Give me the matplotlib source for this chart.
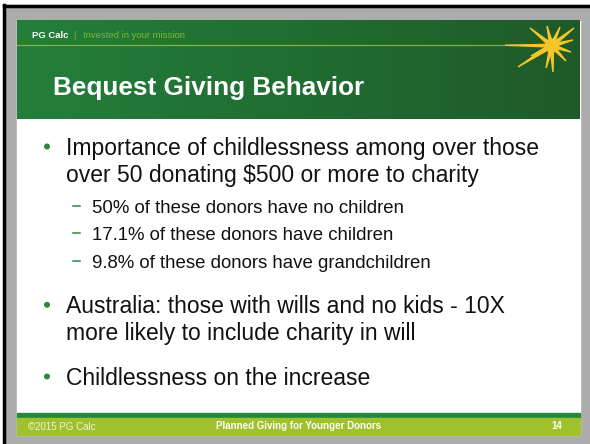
import numpy as np
import matplotlib.pyplot as plt
from matplotlib.patches import Rectangle, Polygon, Circle
from matplotlib.colors import LinearSegmentedColormap

plt.rcParams['font.family'] = ['Liberation Sans', 'DejaVu Sans']

title = 'Bequest Giving Behavior'
brand = 'PG Calc'
tagline = 'Invested in your mission'
bullets = [
    ['Importance of childlessness among over those', 'over 50 donating $500 or more to charity'],
    ['Australia: those with wills and no kids - 10X', 'more likely to include charity in will'],
    ['Childlessness on the increase'],
]
sub_bullets = [
    '50% of these donors have no children',
    '17.1% of these donors have children',
    '9.8% of these donors have grandchildren',
]
footer_left = '\u00a92015 PG Calc'
footer_mid = 'Planned Giving for Younger Donors'
footer_page = '14'

# sunburst ray tips (pixel coords of the slide picture)
ray_x = [530, 547, 560, 574, 573, 571, 566, 553, 546, 518, 531]
ray_y = [28, 26, 27, 28, 40, 52, 61, 72, 68, 67, 56]

W, H = 590, 444
fig = plt.figure(figsize=(W / 100, H / 100), dpi=100)
ax = fig.add_axes([0, 0, 1, 1])

# outer frame
ax.add_patch(Rectangle((0, 0), W, H, color='#ffffff', zorder=0))
ax.add_patch(Rectangle((5, 5), W - 5, H - 5, color='#acacac', zorder=0.5))
ax.plot([4, 4], [5, H], color='#000000', lw=2.5, zorder=1)
ax.plot([4, W], [6.5, 6.5], color='#000000', lw=2.5, zorder=1)

L, R, T, B = 17, 580, 21, 435
ax.add_patch(Rectangle((L, T), R - L, B - T, color='#ffffff', zorder=1))

# header gradient
cmap = LinearSegmentedColormap.from_list('hdr', ['#237f3b', '#1f5a29'])
grad = np.linspace(0, 1, 256).reshape(1, -1)
ax.imshow(grad, cmap=cmap, extent=[L, R, 119.5, T], aspect='auto', zorder=2)
ax.set_xlim(0, W)
ax.set_ylim(H, 0)
ax.axis('off')

ax.plot([L, 515], [45, 45], color='#7dbb2a', lw=0.9, zorder=3)
ax.text(32, 36, brand, color='#ffffff', fontsize=6.8, fontweight='bold', va='center', zorder=4)
ax.text(73, 36, '|', color='#7dbb2a', fontsize=6.8, va='center', zorder=4)
ax.text(83, 36, tagline, color='#7dbb2a', fontsize=6.8, va='center', zorder=4)
ax.text(53, 95, title, color='#ffffff', fontsize=18.8, fontweight='bold', va='baseline', zorder=4)

# sunburst
cx, cy = 551.7, 45.7
sun = '#f5c62a'
ax.add_patch(Circle((cx, cy), 6.5, color=sun, zorder=5))
for tx, ty in zip(ray_x, ray_y):
    d = np.array([tx - cx, ty - cy])
    d = d / np.hypot(*d)
    n = np.array([-d[1], d[0]]) * 1.8
    ax.add_patch(Polygon([[cx + n[0], cy + n[1]], [tx, ty], [cx - n[0], cy - n[1]]],
                         closed=True, color=sun, zorder=5))
ax.add_patch(Polygon([[cx, cy - 1.4], [505, 45.2], [cx, cy + 1.4]], closed=True, color='#eec535', zorder=4.5))

# body text
green = '#2a8a3a'
body_base = [155, 313.3, 385]
sub_base = [212.7, 240, 267.7]
for y, lines in zip(body_base, bullets):
    ax.add_patch(Circle((47, y - 8.5), 2.3, color=green, zorder=4))
    for i, line in enumerate(lines):
        ax.text(66, y + i * 26.7, line, fontsize=16.5, color='#111111', va='baseline', zorder=4)
for y, txt in zip(sub_base, sub_bullets):
    ax.plot([73, 80], [y - 6.7, y - 6.7], color=green, lw=1.1, zorder=4)
    ax.text(92, y, txt, fontsize=13.4, color='#111111', va='baseline', zorder=4)

# footer
ax.add_patch(Rectangle((L, 413), R - L, 4.5, color='#23893b', zorder=3))
ax.add_patch(Rectangle((L, 417.5), R - L, B - 417.5, color='#9fc12b', zorder=3))
ax.text(28, 426.5, footer_left, fontsize=7.0, color='#eef3dc', va='center', zorder=4)
ax.text(298, 426, footer_mid, fontsize=7.0, color='#ffffff', fontweight='bold', va='center', ha='center', zorder=4)
ax.text(557, 426, footer_page, fontsize=7.0, color='#ffffff', fontweight='bold', va='center', ha='center', zorder=4)

fig.savefig('out.png', dpi=100)
